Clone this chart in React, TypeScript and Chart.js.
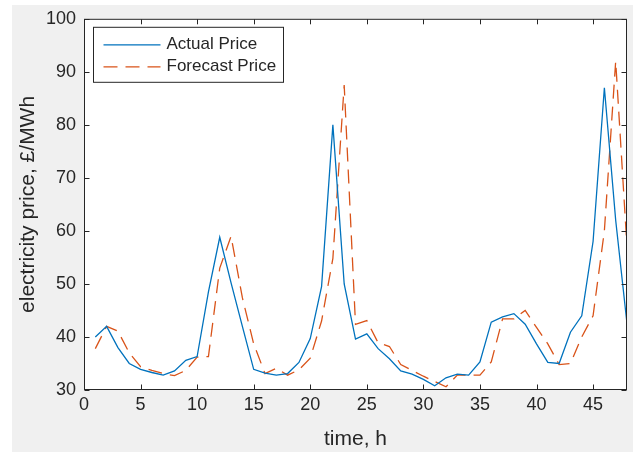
import React, { useEffect, useRef } from 'react';
import { Chart, registerables } from 'chart.js';

Chart.register(...registerables);

// ---------------- data ----------------
const hours = [
  1, 2, 3, 4, 5, 6, 7, 8, 9, 10, 11, 12, 13, 14, 15, 16, 17, 18, 19, 20, 21, 22, 23, 24,
  25, 26, 27, 28, 29, 30, 31, 32, 33, 34, 35, 36, 37, 38, 39, 40, 41, 42, 43, 44, 45, 46, 47, 48,
];

const actualPrice = [
  40.0, 42.0, 38.0, 35.0, 33.9, 33.3, 32.8, 33.6, 35.6, 36.3, 48.5, 58.8,
  50.2, 42.0, 33.9, 33.2, 32.8, 33.1, 35.2, 39.7, 49.5, 80.0, 50.0, 39.6,
  40.6, 37.8, 35.9, 33.6, 33.0, 32.0, 30.8, 32.3, 33.0, 32.8, 35.3, 42.8,
  43.8, 44.4, 42.4, 38.7, 35.2, 35.0, 40.9, 44.0, 58.0, 87.0, 62.0, 42.5,
];

const forecastPrice = [
  37.8, 42.0, 41.1, 37.0, 34.4, 33.7, 33.1, 32.7, 33.7, 36.2, 36.3, 53.0,
  59.0, 47.4, 38.7, 33.1, 34.1, 32.8, 33.8, 36.0, 43.0, 54.8, 87.5, 42.4,
  43.1, 38.9, 38.2, 34.8, 33.7, 32.6, 31.6, 30.6, 32.8, 32.8, 32.8, 35.3,
  43.4, 43.4, 45.0, 41.8, 38.7, 34.8, 35.0, 40.0, 44.0, 60.0, 92.0, 57.0,
];

const seriesNames = ['Actual Price', 'Forecast Price'];
const xTickValues = [0, 5, 10, 15, 20, 25, 30, 35, 40, 45];
const yTickValues = [30, 40, 50, 60, 70, 80, 90, 100];
const xRange = [0, 48];
const yRange = [30, 100];
const xAxisTitle = 'time, h';
const yAxisTitle = 'electricity price, £/MWh';

// ---------------- styles ----------------
const FONT = '"Liberation Sans", Arial, Helvetica, sans-serif';
const AXIS_COLOR = '#262626';
const BLUE = '#0072BD';
const ORANGE = '#D95319';
const DASH = [14, 8];

const figurePlugin = {
  id: 'matlabFigure',
  beforeDraw(chart: any) {
    const { ctx, width, height, chartArea: a } = chart;
    ctx.save();
    ctx.fillStyle = '#ffffff';
    ctx.fillRect(0, 0, width, height);
    ctx.fillStyle = '#f0f0f0';
    ctx.fillRect(12, 5, 621, height - 5);
    ctx.fillStyle = '#ffffff';
    ctx.fillRect(a.left, a.top, a.right - a.left, a.bottom - a.top);
    ctx.restore();
  },
  afterDatasetsDraw(chart: any) {
    const { ctx, chartArea: a, scales } = chart;
    ctx.save();
    ctx.strokeStyle = AXIS_COLOR;
    ctx.lineWidth = 1;
    ctx.setLineDash([]);
    const L = a.left + 0.5;
    const R = a.right - 0.5;
    const T = a.top + 0.5;
    const B = a.bottom - 0.5;
    ctx.strokeRect(L, T, R - L, B - T);
    const tl = 5;
    ctx.beginPath();
    for (const v of xTickValues) {
      const px = Math.round(scales.x.getPixelForValue(v)) + 0.5;
      ctx.moveTo(px, B);
      ctx.lineTo(px, B - tl);
      ctx.moveTo(px, T);
      ctx.lineTo(px, T + tl);
    }
    for (const v of yTickValues) {
      const py = Math.round(scales.y.getPixelForValue(v)) + 0.5;
      ctx.moveTo(L, py);
      ctx.lineTo(L + tl, py);
      ctx.moveTo(R, py);
      ctx.lineTo(R - tl, py);
    }
    ctx.stroke();

    // legend (MATLAB style, inside top-left)
    const lx = a.left + 9.5;
    const ly = a.top + 8.5;
    const lw = 190;
    const lh = 55;
    ctx.fillStyle = '#ffffff';
    ctx.fillRect(lx, ly, lw, lh);
    ctx.strokeStyle = AXIS_COLOR;
    ctx.strokeRect(lx, ly, lw, lh);
    ctx.font = `17px ${FONT}`;
    ctx.textBaseline = 'middle';
    ctx.textAlign = 'left';
    chart.data.datasets.forEach((ds: any, i: number) => {
      const cy = ly + 17.5 + i * 22;
      ctx.strokeStyle = ds.borderColor;
      ctx.lineWidth = ds.borderWidth;
      ctx.setLineDash(ds.borderDash || []);
      ctx.beginPath();
      ctx.moveTo(lx + 10, cy);
      ctx.lineTo(lx + 67, cy);
      ctx.stroke();
      ctx.fillStyle = AXIS_COLOR;
      ctx.fillText(ds.label, lx + 73, cy);
    });
    ctx.restore();
  },
};

export default function App() {
  const canvasRef = useRef<HTMLCanvasElement | null>(null);

  useEffect(() => {
    document.body.style.margin = '0';
    const canvas = canvasRef.current;
    if (!canvas) return;
    const chart = new Chart(canvas, {
      type: 'line',
      data: {
        datasets: [
          {
            label: seriesNames[0],
            data: hours.map((h, i) => ({ x: h, y: actualPrice[i] })),
            borderColor: BLUE,
            backgroundColor: BLUE,
            borderWidth: 1.3,
            pointRadius: 0,
            tension: 0,
            fill: false,
          },
          {
            label: seriesNames[1],
            data: hours.map((h, i) => ({ x: h, y: forecastPrice[i] })),
            borderColor: ORANGE,
            backgroundColor: ORANGE,
            borderWidth: 1.3,
            borderDash: DASH,
            pointRadius: 0,
            tension: 0,
            fill: false,
          },
        ],
      },
      options: {
        animation: false,
        responsive: false,
        devicePixelRatio: 1,
        layout: { padding: { left: 0, top: 15, right: 15, bottom: 0 } },
        plugins: {
          legend: { display: false },
          tooltip: { enabled: false },
        },
        scales: {
          x: {
            type: 'linear',
            min: xRange[0],
            max: xRange[1],
            afterBuildTicks: (s: any) => {
              s.ticks = xTickValues.map((v) => ({ value: v }));
            },
            afterFit: (s: any) => {
              s.height = 62;
            },
            grid: { display: false, drawTicks: false },
            border: { display: false },
            ticks: {
              font: { family: FONT, size: 18 },
              color: AXIS_COLOR,
              padding: 4,
              maxRotation: 0,
              autoSkip: false,
            },
            title: {
              display: true,
              text: xAxisTitle,
              font: { family: FONT, size: 21 },
              color: AXIS_COLOR,
              padding: { top: 0, bottom: 0 },
            },
          },
          y: {
            type: 'linear',
            min: yRange[0],
            max: yRange[1],
            afterBuildTicks: (s: any) => {
              s.ticks = yTickValues.map((v) => ({ value: v }));
            },
            afterFit: (s: any) => {
              s.width = 84;
            },
            grid: { display: false, drawTicks: false },
            border: { display: false },
            ticks: {
              font: { family: FONT, size: 18 },
              color: AXIS_COLOR,
              padding: 8,
              autoSkip: false,
            },
            title: {
              display: true,
              text: yAxisTitle,
              font: { family: FONT, size: 21 },
              color: AXIS_COLOR,
              padding: { top: 16, bottom: 0 },
            },
          },
        },
      },
      plugins: [figurePlugin],
    });
    return () => chart.destroy();
  }, []);

  return (
    <canvas
      ref={canvasRef}
      width={642}
      height={452}
      style={{ display: 'block', width: 642, height: 452 }}
    />
  );
}
